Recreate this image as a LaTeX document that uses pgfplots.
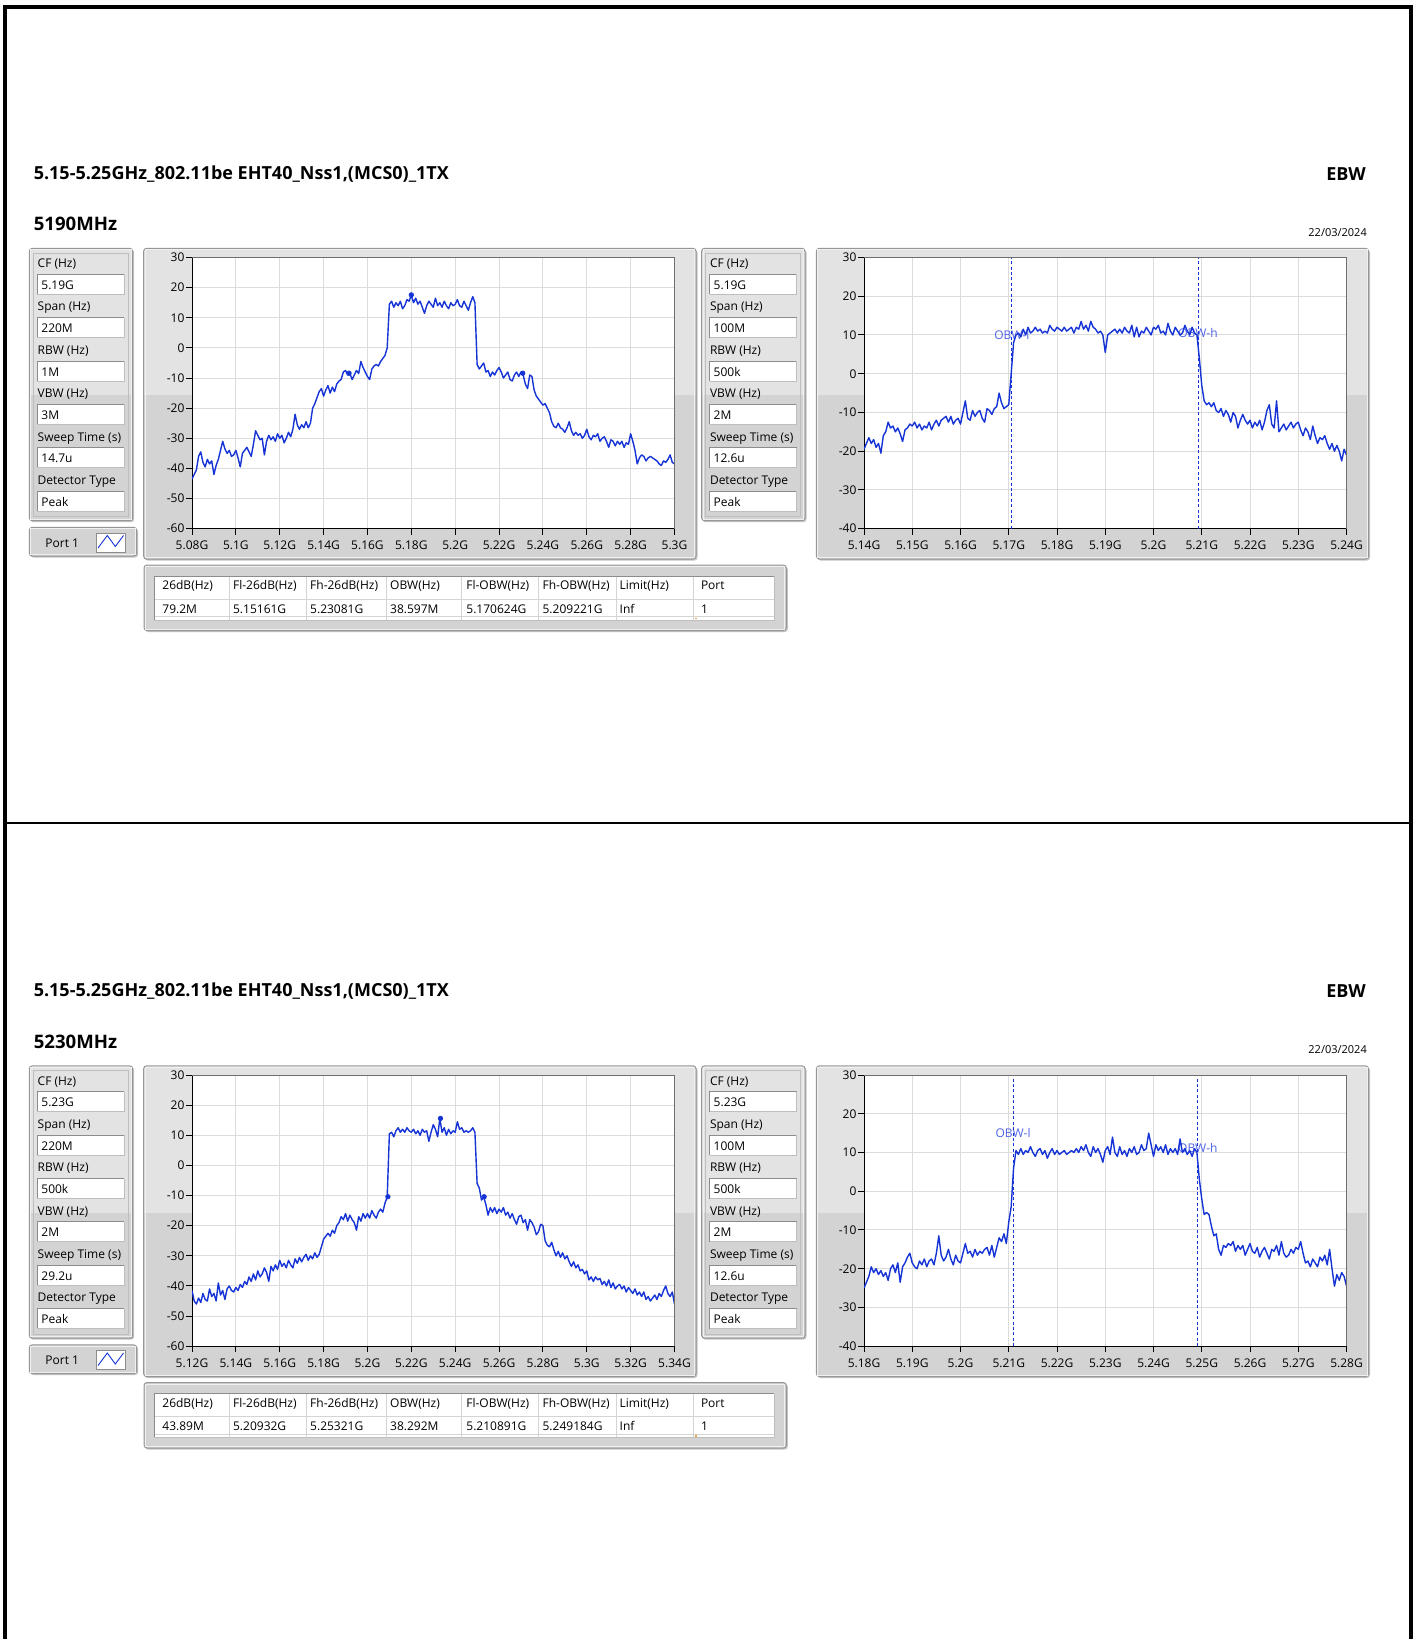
\documentclass[border=0pt]{standalone}
\usepackage{fontspec}
\setmainfont{Open Sans}
\usepackage{pgfplots}
\pgfplotsset{compat=1.18}

\definecolor{traceblue}{RGB}{22,52,214}
\definecolor{obwtext}{RGB}{80,100,230}
\definecolor{gridgray}{RGB}{220,220,220}
\definecolor{panelupper}{RGB}{227,227,227}
\definecolor{panellower}{RGB}{211,211,211}
\definecolor{panelline}{RGB}{150,150,150}
\definecolor{panelhigh}{RGB}{240,240,240}
\definecolor{panelshadow}{RGB}{195,195,195}
\definecolor{boxline}{RGB}{140,140,140}
\definecolor{innerline}{RGB}{190,190,190}
\definecolor{tablegrid}{RGB}{212,212,212}
\definecolor{framegray}{RGB}{110,110,110}
\definecolor{cursororange}{RGB}{232,165,60}

\newcommand{\sm}{\fontsize{6}{7}\selectfont}
\newcommand{\titlefont}{\fontsize{9}{10}\selectfont\bfseries}
\newcommand{\freqfont}{\fontsize{9.3}{10}\selectfont\bfseries}
\newcommand{\datefont}{\fontsize{5.5}{6}\selectfont}

\tikzset{obwlabel/.style={text=obwtext, font=\sm, inner sep=0pt}}

% LabVIEW-like cluster frame: x1 y1 x2 y2 and the height where the two-tone fill changes
\newcommand{\lvpanel}[5]{%
  \fill[panelshadow, rounded corners=1.5pt] ({#1+1},{#2+1.5}) rectangle ({#3+1.5},{#4+1.5});
  \begin{scope}
    \clip[rounded corners=1.5pt] (#1,#2) rectangle (#3,#4);
    \fill[panelupper] (#1,#2) rectangle (#3,#5);
    \fill[panellower] (#1,#5) rectangle (#3,#4);
  \end{scope}
  \draw[panelline, line width=0.5pt, rounded corners=1.5pt] (#1,#2) rectangle (#3,#4);
  \draw[panelhigh, line width=0.5pt] ({#1+1.5},{#2+1.5}) rectangle ({#3-1.5},{#4-1.5});
}

% one labelled value box of the parameter list
\newcommand{\prow}[3]{%
  \node[anchor=base west, inner sep=0, font=\sm] at (37.3,{267.6+43.35*#1}) {#2};
  \fill[white] (37.3,{274.3+43.35*#1}) rectangle (124.3,{294.3+43.35*#1});
  \draw[boxline, line width=0.5pt] (37.3,{294.3+43.35*#1}) |- (124.3,{274.3+43.35*#1});
  \draw[innerline, line width=0.5pt] (37.3,{294.3+43.35*#1}) -| (124.3,{274.3+43.35*#1});
  \node[anchor=base west, inner sep=0, font=\sm] at (41,{289.3+43.35*#1}) {#3};
}

% parameter list: x offset, then the six values
\newcommand{\paramset}[7]{%
  \begin{scope}[shift={(#1,0)}]
    \lvpanel{29.3}{248.3}{132.7}{520.7}{395}
    \draw[innerline, line width=0.4pt] (33.5,253) rectangle (128.5,516.5);
    \prow{0}{CF (Hz)}{#2}
    \prow{1}{Span (Hz)}{#3}
    \prow{2}{RBW (Hz)}{#4}
    \prow{3}{VBW (Hz)}{#5}
    \prow{4}{Sweep Time (s)}{#6}
    \prow{5}{Detector Type}{#7}
  \end{scope}
}

\newcommand{\portbutton}{%
  \lvpanel{29.3}{527.3}{136.7}{556}{395}
  \node[anchor=base west, inner sep=0, font=\sm] at (45,547.3) {Port 1};
  \fill[white] (96,533.3) rectangle (125.3,552);
  \draw[boxline, line width=0.5pt] (96,533.3) rectangle (125.3,552);
  \draw[traceblue, line width=0.45pt] (98,548) -- (107.3,535.5) -- (115.3,546.5) -- (123.5,535.5);
}

\newcommand{\hcell}[2]{\node[anchor=base west, inner sep=0, font=\sm] at (#1,589.5) {#2};}
\newcommand{\dcell}[2]{\node[anchor=base west, inner sep=0, font=\sm] at (#1,613.3) {#2};}

% result table: the eight values of the data row
\newcommand{\obwtable}[8]{%
  \lvpanel{144}{565}{786.3}{630.5}{395}
  \fill[white] (154.4,576) rectangle (774.3,620);
  \foreach \cx in {229.3,306.8,386,461.8,538.8,616.7,693.8}
    \draw[tablegrid, line width=0.5pt] (\cx,576) -- (\cx,620);
  \draw[tablegrid, line width=0.5pt] (154.4,599.3) -- (774.3,599.3);
  \draw[tablegrid, line width=0.5pt] (154.4,616.7) -- (774.3,616.7);
  \draw[boxline, line width=0.5pt] (154.4,620) |- (774.3,576);
  \draw[innerline, line width=0.5pt] (154.4,620) -| (774.3,576);
  \hcell{162}{26dB(Hz)}
  \hcell{232.7}{Fl-26dB(Hz)}
  \hcell{309.8}{Fh-26dB(Hz)}
  \hcell{389.8}{OBW(Hz)}
  \hcell{466}{Fl-OBW(Hz)}
  \hcell{542.2}{Fh-OBW(Hz)}
  \hcell{619.3}{Limit(Hz)}
  \hcell{700.6}{Port}
  \dcell{162}{#1}
  \dcell{232.7}{#2}
  \dcell{309.8}{#3}
  \dcell{389.8}{#4}
  \dcell{466}{#5}
  \dcell{542.2}{#6}
  \dcell{619.3}{#7}
  \dcell{700.6}{#8}
  \fill[cursororange] (694.5,617.5) rectangle (697,619);
}

% everything of one measurement except the two graphs
\newcommand{\headerblock}[1]{%
  \node[anchor=base west, inner sep=0, font=\titlefont] at (33.4,179) {5.15-5.25GHz\_802.11be EHT40\_Nss1,(MCS0)\_1TX};
  \node[anchor=base east, inner sep=0, font=\titlefont] at (1366.2,180) {EBW};
  \node[anchor=base west, inner sep=0, font=\freqfont] at (33.4,230.7) {#1};
  \node[anchor=base east, inner sep=0, font=\datefont] at (1367.2,236) {22/03/2024};
  \lvpanel{143.6}{248.3}{696}{559}{395}
  \lvpanel{816.4}{248.3}{1368.5}{559}{395}
}

\pgfplotsset{
  lvplot/.style={
    scale only axis, width=241.25pt, height=135.6pt, anchor=north west,
    axis background/.style={fill=white},
    axis lines=left, axis line style={-, line width=0.5pt, black},
    enlargelimits=false,
    tick align=outside, major tick length=3pt,
    tick style={line width=0.5pt, black},
    grid=major, grid style={gridgray, line width=0.5pt},
    tick label style={font=\sm, inner sep=0pt},
    yticklabel style={anchor=east, xshift=-0.6pt},
    xticklabel style={anchor=north, yshift=-3pt},
    extra description/.code={\draw[framegray, line width=0.4pt] (0,1) -- (1,1) -- (1,0);},
  },
  leftplot/.style={lvplot, ymin=-60, ymax=30,
    ytick={-60,-50,-40,-30,-20,-10,0,10,20,30},
    yticklabels={-60,-50,-40,-30,-20,-10,0,10,20,30}},
  rightplot/.style={lvplot, ymin=-40, ymax=30,
    ytick={-40,-30,-20,-10,0,10,20,30},
    yticklabels={-40,-30,-20,-10,0,10,20,30}},
  trace/.style={traceblue, line width=0.7pt, line join=round, mark=none},
  peakmark/.style={only marks, mark=*, mark size=1.1pt, traceblue},
  obwline/.style={traceblue, line width=0.45pt, dash pattern=on 1.5pt off 1.2pt},
}

\begin{document}
\begin{tikzpicture}
\begin{scope}[x=0.5pt,y=-0.5pt]
  \useasboundingbox (0,0) rectangle (1415,1639);
  % page frame and separator between the two measurements
  \fill[black] (2.7,4.7) rectangle (1413,8.7);
  \fill[black] (2.7,4.7) rectangle (6.7,1639);
  \fill[black] (1409,4.7) rectangle (1413,1639);
  \fill[black] (2.7,822.3) rectangle (1413,824.3);

  % 5190 MHz
  \headerblock{5190MHz}
  \paramset{0}{5.19G}{220M}{1M}{3M}{14.7u}{Peak}
  \paramset{672.3}{5.19G}{100M}{500k}{2M}{12.6u}{Peak}
  \portbutton
  \obwtable{79.2M}{5.15161G}{5.23081G}{38.597M}{5.170624G}{5.209221G}{Inf}{1}

  % 5230 MHz
  \begin{scope}[shift={(0,817.5)}]
    \headerblock{5230MHz}
    \paramset{0}{5.23G}{220M}{500k}{2M}{29.2u}{Peak}
    \paramset{672.3}{5.23G}{100M}{500k}{2M}{12.6u}{Peak}
    \portbutton
    \obwtable{43.89M}{5.20932G}{5.25321G}{38.292M}{5.210891G}{5.249184G}{Inf}{1}
  \end{scope}
\end{scope}

% ---------- 5190 MHz, 220 MHz span ----------
\begin{axis}[leftplot, at={(96pt,-128.75pt)},
  xmin=5080, xmax=5300, xtick={5080,5100,...,5300},
  xticklabels={5.08G,5.1G,5.12G,5.14G,5.16G,5.18G,5.2G,5.22G,5.24G,5.26G,5.28G,5.3G}]
\addplot[trace] coordinates {
(5080,-43.5) (5081,-42) (5082,-40.5) (5083,-36) (5084,-34.5) (5085,-38) (5086,-39.5) (5087,-37) (5088,-38.5) (5089,-37.5)
(5090,-42) (5091,-39) (5092,-37) (5093,-34) (5094,-31) (5095,-33.5) (5096,-35) (5097,-34) (5098,-36) (5099,-35.5)
(5100,-34) (5101,-36.5) (5102,-39.5) (5103,-35) (5104,-34) (5105,-33) (5106,-34.5) (5107,-36) (5108,-32) (5109,-27.5)
(5110,-29) (5111,-30.5) (5112,-30) (5113,-35.5) (5114,-31) (5115,-29) (5116,-30.5) (5117,-29.5) (5118,-31) (5119,-28.5)
(5120,-30) (5121,-29) (5122,-31.5) (5123,-30) (5124,-28) (5125,-29.5) (5126,-27) (5127,-22) (5128,-25.5) (5129,-27)
(5130,-25.5) (5131,-26.5) (5132,-24.5) (5133,-26.5) (5134,-25) (5135,-20) (5136,-18.5) (5137,-16.5) (5138,-14.5) (5139,-13.5)
(5140,-16) (5141,-14) (5142,-12.5) (5143,-15) (5144,-13) (5145,-14.5) (5146,-12) (5147,-11) (5148,-10.5) (5149,-8)
(5150,-7.5) (5151,-9) (5152,-8.5) (5153,-10.5) (5154,-9) (5155,-7.5) (5156,-8.5) (5157,-4.5) (5158,-6.5) (5159,-8)
(5160,-9.5) (5161,-10.5) (5162,-7) (5163,-6) (5164,-5.5) (5165,-6) (5166,-4.5) (5167,-3.5) (5168,-2.5) (5169,0)
(5170,14.5) (5171,15.5) (5172,13.5) (5173,15) (5174,14) (5175,15.5) (5176,13) (5177,14) (5178,16) (5179,15.5)
(5180,17.6) (5181,15) (5182,16.5) (5183,14.5) (5184,15.5) (5185,13.5) (5186,11.5) (5187,14) (5188,15.5) (5189,14.5)
(5190,13.5) (5191,16.5) (5192,14) (5193,15) (5194,13.5) (5195,15.5) (5196,14) (5197,13) (5198,15) (5199,14)
(5200,14.5) (5201,16) (5202,14) (5203,13.5) (5204,15.5) (5205,14) (5206,12.5) (5207,15) (5208,17) (5209,15)
(5210,-5.5) (5211,-7) (5212,-6) (5213,-5) (5214,-8) (5215,-7.5) (5216,-9.5) (5217,-8) (5218,-9) (5219,-7.5)
(5220,-6.5) (5221,-8) (5222,-10) (5223,-9) (5224,-8) (5225,-10.5) (5226,-11) (5227,-9) (5228,-8) (5229,-9.5)
(5230,-8) (5231,-9) (5232,-12) (5233,-13.5) (5234,-9) (5235,-9.5) (5236,-14) (5237,-16) (5238,-17) (5239,-18)
(5240,-19) (5241,-18.5) (5242,-20) (5243,-21.5) (5244,-24.5) (5245,-26) (5246,-26.5) (5247,-25) (5248,-26.5) (5249,-27)
(5250,-28) (5251,-26.5) (5252,-24.5) (5253,-27.5) (5254,-29) (5255,-28) (5256,-29) (5257,-28.5) (5258,-30) (5259,-29)
(5260,-27) (5261,-29.5) (5262,-30.5) (5263,-29) (5264,-29.5) (5265,-28.5) (5266,-31) (5267,-30) (5268,-29.5) (5269,-31)
(5270,-33) (5271,-30.5) (5272,-31) (5273,-32.5) (5274,-31) (5275,-32) (5276,-31) (5277,-33) (5278,-31.5) (5279,-32)
(5280,-28.5) (5281,-31) (5282,-34) (5283,-38.5) (5284,-36.5) (5285,-35.5) (5286,-36) (5287,-37.5) (5288,-36.5) (5289,-36)
(5290,-36.5) (5291,-37) (5292,-37.5) (5293,-38.5) (5294,-39) (5295,-37.5) (5296,-38) (5297,-37) (5298,-35.5) (5299,-38)
(5300,-38.5)};
\addplot[peakmark] coordinates {(5180,17.6) (5151.61,-8.4) (5230.81,-8.4)};
\end{axis}

% ---------- 5190 MHz, 100 MHz span with OBW ----------
\begin{axis}[rightplot, at={(432pt,-128.75pt)},
  xmin=5140, xmax=5240, xtick={5140,5150,...,5240},
  xticklabels={5.14G,5.15G,5.16G,5.17G,5.18G,5.19G,5.2G,5.21G,5.22G,5.23G,5.24G}]
\node[obwlabel] at (axis cs:5170.624,10) {OBW-l};
\node[obwlabel] at (axis cs:5209.221,10.5) {OBW-h};
\addplot[obwline] coordinates {(5170.624,-40) (5170.624,30)};
\addplot[obwline] coordinates {(5209.221,-40) (5209.221,30)};
\addplot[trace] coordinates {
(5140,-19.5) (5140.5,-18) (5141,-16.5) (5141.5,-18) (5142,-17) (5142.5,-19) (5143,-18) (5143.5,-20.5) (5144,-16) (5144.5,-15)
(5145,-12.5) (5145.5,-14) (5146,-13.5) (5146.5,-15) (5147,-14) (5147.5,-15.5) (5148,-17.5) (5148.5,-14.5) (5149,-14) (5149.5,-13)
(5150,-13.5) (5150.5,-12.5) (5151,-14) (5151.5,-13) (5152,-14.5) (5152.5,-13.5) (5153,-14) (5153.5,-12.5) (5154,-14.5) (5154.5,-13)
(5155,-12) (5155.5,-13.5) (5156,-12) (5156.5,-11.5) (5157,-11) (5157.5,-12.5) (5158,-11) (5158.5,-13) (5159,-12) (5159.5,-11.5)
(5160,-13) (5160.5,-10) (5161,-7) (5161.5,-11.5) (5162,-12) (5162.5,-9.5) (5163,-11) (5163.5,-10) (5164,-9.5) (5164.5,-11.5)
(5165,-12.5) (5165.5,-9) (5166,-9.5) (5166.5,-10.5) (5167,-9) (5167.5,-8.5) (5168,-5) (5168.5,-7.5) (5169,-9) (5169.5,-8.5)
(5170,-8) (5170.5,0) (5171,8) (5171.5,10) (5172,10.5) (5172.5,9.5) (5173,11.5) (5173.5,10) (5174,12) (5174.5,10.5)
(5175,11) (5175.5,12) (5176,11) (5176.5,11.5) (5177,10.5) (5177.5,11) (5178,10.5) (5178.5,12.5) (5179,11.5) (5179.5,11)
(5180,12) (5180.5,11.5) (5181,11) (5181.5,12) (5182,11) (5182.5,11.5) (5183,12) (5183.5,10.5) (5184,12) (5184.5,11.5)
(5185,13.5) (5185.5,11.5) (5186,12.5) (5186.5,11) (5187,13.5) (5187.5,12) (5188,11.5) (5188.5,10.5) (5189,11) (5189.5,10)
(5190,5.5) (5190.5,10) (5191,10.5) (5191.5,11) (5192,11.5) (5192.5,10.5) (5193,11.5) (5193.5,10.5) (5194,12) (5194.5,11)
(5195,10.5) (5195.5,12.5) (5196,9.5) (5196.5,12) (5197,9.5) (5197.5,11) (5198,10.5) (5198.5,12) (5199,11) (5199.5,10)
(5200,12) (5200.5,11.5) (5201,12.5) (5201.5,10.5) (5202,11) (5202.5,10) (5203,13) (5203.5,11) (5204,10) (5204.5,12)
(5205,11) (5205.5,10) (5206,10.5) (5206.5,12.5) (5207,11) (5207.5,10) (5208,12) (5208.5,10.5) (5209,10) (5209.5,4)
(5210,-3) (5210.5,-7) (5211,-8) (5211.5,-7.5) (5212,-8.5) (5212.5,-7.5) (5213,-9.5) (5213.5,-10) (5214,-9) (5214.5,-11)
(5215,-9.5) (5215.5,-10.5) (5216,-12.5) (5216.5,-10) (5217,-11) (5217.5,-14) (5218,-12) (5218.5,-10.5) (5219,-12) (5219.5,-13)
(5220,-12) (5220.5,-14) (5221,-12.5) (5221.5,-13.5) (5222,-12) (5222.5,-14.5) (5223,-12.5) (5223.5,-9.5) (5224,-8) (5224.5,-13)
(5225,-14) (5225.5,-7) (5226,-15) (5226.5,-14) (5227,-13) (5227.5,-14.5) (5228,-13.5) (5228.5,-12.5) (5229,-14) (5229.5,-13)
(5230,-12.5) (5230.5,-14.5) (5231,-16) (5231.5,-14) (5232,-15) (5232.5,-17) (5233,-13.5) (5233.5,-16) (5234,-18) (5234.5,-16.5)
(5235,-17) (5235.5,-16) (5236,-18) (5236.5,-19.5) (5237,-18) (5237.5,-20) (5238,-18.5) (5238.5,-20) (5239,-22.5) (5239.5,-19.5)
(5240,-21)};
\end{axis}

% ---------- 5230 MHz, 220 MHz span ----------
\begin{axis}[leftplot, at={(96pt,-537.5pt)},
  xmin=5120, xmax=5340, xtick={5120,5140,...,5340},
  xticklabels={5.12G,5.14G,5.16G,5.18G,5.2G,5.22G,5.24G,5.26G,5.28G,5.3G,5.32G,5.34G}]
\addplot[trace] coordinates {
(5120,-41.5) (5121,-45) (5122,-46) (5123,-44) (5124,-45.5) (5125,-42.5) (5126,-44.5) (5127,-45) (5128,-41) (5129,-43.5)
(5130,-42.5) (5131,-45) (5132,-39) (5133,-43) (5134,-41.5) (5135,-44.5) (5136,-41) (5137,-40) (5138,-41.5) (5139,-42)
(5140,-40.5) (5141,-41.5) (5142,-39.5) (5143,-40.5) (5144,-38.5) (5145,-39.5) (5146,-37) (5147,-38.5) (5148,-36) (5149,-38)
(5150,-35) (5151,-37) (5152,-36) (5153,-34) (5154,-35.5) (5155,-38.5) (5156,-33.5) (5157,-35) (5158,-33) (5159,-34.5)
(5160,-31.5) (5161,-33.5) (5162,-32.5) (5163,-34) (5164,-31.5) (5165,-33) (5166,-34) (5167,-31) (5168,-32.5) (5169,-30.5)
(5170,-32) (5171,-30.5) (5172,-29.5) (5173,-31.5) (5174,-30) (5175,-31) (5176,-29) (5177,-30.5) (5178,-29.5) (5179,-27)
(5180,-24.5) (5181,-23.5) (5182,-22.5) (5183,-23.5) (5184,-21.5) (5185,-22.5) (5186,-20) (5187,-19) (5188,-17) (5189,-18)
(5190,-16) (5191,-18.5) (5192,-16.5) (5193,-18) (5194,-19) (5195,-21.5) (5196,-17) (5197,-18.5) (5198,-16) (5199,-17.5)
(5200,-16) (5201,-17.5) (5202,-15) (5203,-16.5) (5204,-17.5) (5205,-15.5) (5206,-14.5) (5207,-15.5) (5208,-12.5) (5209,-10.5)
(5210,10.5) (5211,11) (5212,9.5) (5213,11.5) (5214,12.5) (5215,11) (5216,12) (5217,11) (5218,12.5) (5219,11.5)
(5220,11) (5221,12) (5222,10.5) (5223,11.5) (5224,10) (5225,12) (5226,11) (5227,11.5) (5228,8) (5229,11)
(5230,13.5) (5231,12) (5232,9.5) (5233,15.6) (5234,11) (5235,12.5) (5236,10) (5237,12) (5238,10.5) (5239,11.5)
(5240,11) (5241,14.5) (5242,12) (5243,12.5) (5244,11) (5245,11.5) (5246,11) (5247,11.5) (5248,12.5) (5249,11)
(5250,-6) (5251,-7.5) (5252,-11.5) (5253,-10.5) (5254,-13) (5255,-16.5) (5256,-14) (5257,-15.5) (5258,-14) (5259,-16)
(5260,-14.5) (5261,-15.5) (5262,-14) (5263,-16.5) (5264,-15.5) (5265,-17.5) (5266,-16) (5267,-18) (5268,-19.5) (5269,-17)
(5270,-16.5) (5271,-19) (5272,-18) (5273,-21.5) (5274,-18) (5275,-19) (5276,-20.5) (5277,-23) (5278,-22) (5279,-19.5)
(5280,-20) (5281,-25) (5282,-26.5) (5283,-27) (5284,-25.5) (5285,-28) (5286,-30) (5287,-28.5) (5288,-30.5) (5289,-29)
(5290,-31) (5291,-30) (5292,-32) (5293,-33.5) (5294,-32) (5295,-34) (5296,-33) (5297,-35) (5298,-34.5) (5299,-36)
(5300,-35) (5301,-38) (5302,-37) (5303,-38.5) (5304,-37) (5305,-38) (5306,-37.5) (5307,-39.5) (5308,-38.5) (5309,-40)
(5310,-38) (5311,-40.5) (5312,-39) (5313,-41) (5314,-40) (5315,-39.5) (5316,-41) (5317,-40) (5318,-42) (5319,-40.5)
(5320,-41.5) (5321,-42.5) (5322,-41) (5323,-43) (5324,-42) (5325,-43.5) (5326,-42) (5327,-44.5) (5328,-43.5) (5329,-45)
(5330,-44) (5331,-43) (5332,-44.5) (5333,-42.5) (5334,-43.5) (5335,-41.5) (5336,-40) (5337,-42.5) (5338,-43.5) (5339,-42)
(5340,-46)};
\addplot[peakmark] coordinates {(5233.3,15.6) (5209.32,-10.4) (5253.21,-10.4)};
\end{axis}

% ---------- 5230 MHz, 100 MHz span with OBW ----------
\begin{axis}[rightplot, at={(432pt,-537.5pt)},
  xmin=5180, xmax=5280, xtick={5180,5190,...,5280},
  xticklabels={5.18G,5.19G,5.2G,5.21G,5.22G,5.23G,5.24G,5.25G,5.26G,5.27G,5.28G}]
\node[obwlabel] at (axis cs:5210.891,15) {OBW-l};
\node[obwlabel] at (axis cs:5249.184,11.1) {OBW-h};
\addplot[obwline] coordinates {(5210.891,-40) (5210.891,30)};
\addplot[obwline] coordinates {(5249.184,-40) (5249.184,30)};
\addplot[trace] coordinates {
(5180,-25) (5180.5,-23.5) (5181,-22) (5181.5,-19.5) (5182,-21) (5182.5,-20) (5183,-21.5) (5183.5,-20.5) (5184,-22) (5184.5,-21)
(5185,-23) (5185.5,-20) (5186,-19) (5186.5,-21) (5187,-18.5) (5187.5,-23.5) (5188,-19.5) (5188.5,-18.5) (5189,-17) (5189.5,-16)
(5190,-18.5) (5190.5,-19.5) (5191,-20) (5191.5,-18) (5192,-19) (5192.5,-17.5) (5193,-19.5) (5193.5,-18) (5194,-17.5) (5194.5,-19)
(5195,-16) (5195.5,-11.5) (5196,-16.5) (5196.5,-18) (5197,-17) (5197.5,-15) (5198,-17.5) (5198.5,-19) (5199,-16.5) (5199.5,-18)
(5200,-18.5) (5200.5,-16) (5201,-13.5) (5201.5,-16) (5202,-15.5) (5202.5,-17) (5203,-15) (5203.5,-16.5) (5204,-15.5) (5204.5,-16)
(5205,-15) (5205.5,-14.5) (5206,-16.5) (5206.5,-14) (5207,-17) (5207.5,-14.5) (5208,-12) (5208.5,-13) (5209,-11) (5209.5,-13.5)
(5210,-8) (5210.5,-4) (5211,6) (5211.5,10.5) (5212,9.5) (5212.5,11) (5213,9.5) (5213.5,10.5) (5214,10) (5214.5,11.5)
(5215,10) (5215.5,9) (5216,10.5) (5216.5,11) (5217,9.5) (5217.5,10.5) (5218,8.5) (5218.5,10) (5219,11) (5219.5,9.5)
(5220,10.5) (5220.5,9.5) (5221,10) (5221.5,10.5) (5222,9.5) (5222.5,10) (5223,10.5) (5223.5,10) (5224,11) (5224.5,10)
(5225,11.5) (5225.5,10.5) (5226,12) (5226.5,10) (5227,9) (5227.5,11.5) (5228,10) (5228.5,11) (5229,9.5) (5229.5,7.5)
(5230,10.5) (5230.5,11.5) (5231,9.5) (5231.5,14) (5232,10) (5232.5,9) (5233,11.5) (5233.5,9.5) (5234,10.5) (5234.5,9)
(5235,11) (5235.5,10) (5236,11.5) (5236.5,9.5) (5237,10) (5237.5,12) (5238,10.5) (5238.5,11) (5239,15) (5239.5,12)
(5240,9) (5240.5,12) (5241,10.5) (5241.5,11.5) (5242,10) (5242.5,12) (5243,9.5) (5243.5,11) (5244,10) (5244.5,11)
(5245,9.5) (5245.5,13.5) (5246,10) (5246.5,11) (5247,9.5) (5247.5,10.5) (5248,9) (5248.5,11) (5249,10) (5249.5,3)
(5250,-2) (5250.5,-6) (5251,-5.5) (5251.5,-6) (5252,-9) (5252.5,-11.5) (5253,-11) (5253.5,-15) (5254,-16.5) (5254.5,-14)
(5255,-14.5) (5255.5,-13.5) (5256,-14) (5256.5,-13) (5257,-15.5) (5257.5,-14) (5258,-15) (5258.5,-14) (5259,-16.5) (5259.5,-15)
(5260,-13.5) (5260.5,-15.5) (5261,-16) (5261.5,-14.5) (5262,-17) (5262.5,-15.5) (5263,-14.5) (5263.5,-16) (5264,-17.5) (5264.5,-15)
(5265,-15.5) (5265.5,-14) (5266,-16.5) (5266.5,-13) (5267,-16) (5267.5,-17) (5268,-16.5) (5268.5,-15) (5269,-16) (5269.5,-14.5)
(5270,-15) (5270.5,-13) (5271,-16) (5271.5,-18.5) (5272,-18) (5272.5,-19.5) (5273,-17.5) (5273.5,-18.5) (5274,-19.5) (5274.5,-17)
(5275,-18) (5275.5,-16.5) (5276,-19) (5276.5,-15) (5277,-20) (5277.5,-24.5) (5278,-21.5) (5278.5,-23) (5279,-21) (5279.5,-22)
(5280,-24.5)};
\end{axis}
\end{tikzpicture}
\end{document}
